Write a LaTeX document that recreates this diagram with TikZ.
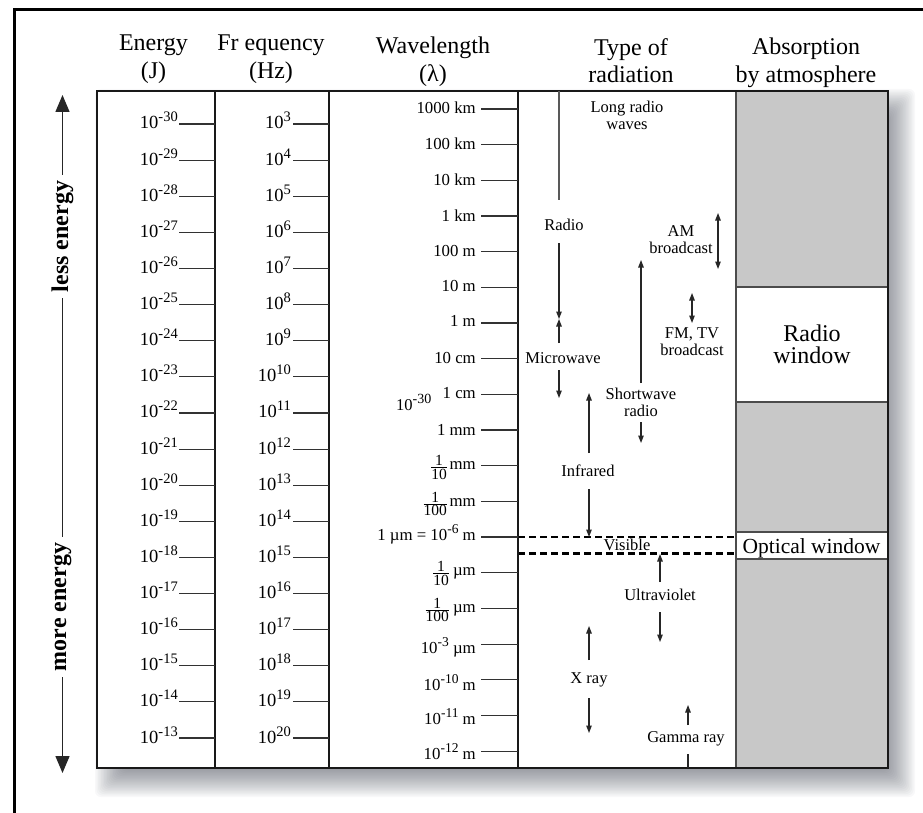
\documentclass[tikz,border=0pt]{standalone}
\usepackage{fontspec}
\setmainfont{Liberation Serif}
\usetikzlibrary{arrows.meta}
\definecolor{absg}{RGB}{200,200,200}
\definecolor{shc}{RGB}{55,60,75}
\definecolor{tkc}{RGB}{50,50,50}
\newcommand\fsz[1]{\fontsize{#1}{#1}\selectfont}
\newcommand\esup[1]{\raisebox{7pt}{\fsz{14.5}#1}}
\newcommand\wsup[1]{\raisebox{7pt}{\fsz{13.5}#1}}
\newcommand\wfrac[2]{\lower 9.5pt\vbox{\fsz{15.5}\halign{\hfil##\hfil\cr #1\cr\noalign{\kern1.2pt\hrule height 0.6pt\kern1.2pt}#2\cr}}}
\begin{document}
\begin{tikzpicture}[x=1pt,y=-1pt,
  tick/.style={draw=tkc, line width=1.1pt},
  elab/.style={anchor=base east, inner sep=0pt, font=\fsz{18.5}},
  wlab/.style={anchor=base east, inner sep=0pt, font=\fsz{16.8}},
  hdr/.style={anchor=north, align=center, inner sep=0pt, font=\fontsize{24}{27.5}\selectfont},
  rlab/.style={align=center, inner sep=0pt, font=\fontsize{16.5}{17}\selectfont},
  sline/.style={draw=black!85, line width=1.1pt},
  sarr/.style={sline, -{Triangle[length=7.5pt,width=5.5pt]}},
  darr/.style={sline, {Triangle[length=7.5pt,width=5.5pt]}-{Triangle[length=7.5pt,width=5.5pt]}},
  bline/.style={draw=black!85, line width=1.5pt},
  barr/.style={bline, -{Triangle[length=17pt,width=14pt]}},
  side/.style={rotate=90, font=\bfseries\fsz{24}, inner xsep=6pt, inner ysep=0pt},
  gline/.style={draw=black!70, line width=1.1pt},
  dashl/.style={draw=black, line width=2.6pt, dash pattern=on 7pt off 4pt}
]
\useasboundingbox (0,0) rectangle (923,813);
\fill[white] (0,0) rectangle (923,813);
\begin{scope}
  \clip (0,0) rectangle (923,813);
  \draw[line width=3pt] (14,830) -- (14,10) -- (940,10);
\end{scope}

% soft shadow
\foreach \i in {0,...,19}{
  \fill[shc, opacity=0.03, rounded corners=6pt] (95+1.5*\i,89+1.5*\i) rectangle (915-1.5*\i,797-1.5*\i);
}

% table body
\fill[white] (97,91) rectangle (888,768);
\fill[absg] (736,91) rectangle (888,287);
\fill[absg] (736,402) rectangle (888,532);
\fill[absg] (736,559) rectangle (888,768);
\draw[gline] (736,287) -- (888,287);
\draw[gline] (736,402) -- (888,402);
\draw[gline] (736,532) -- (888,532);
\draw[gline] (736,559) -- (888,559);
\draw[gline] (736,91) -- (736,768);

\draw[dashl] (518,537) -- (736,537);
\draw[dashl] (518,553.5) -- (736,553.5);

\draw[line width=1.3pt, black!90] (215,91) -- (215,768);
\draw[line width=1.3pt, black!90] (329,91) -- (329,768);
\draw[line width=1.3pt, black!90] (518,91) -- (518,768);
\draw[line width=1.3pt, black!90] (97,91) rectangle (888,768);

% headers
\node[hdr] (hE) at (153.5,35) {Energy\\(J)};
\node[hdr] (hF) at (271,35) {Fr equency\\(Hz)};
\node[hdr] (hW) at (433,37) {Wavelength\\(λ)};
\node[hdr] (hT) at (631,38) {Type of\\radiation};
\node[hdr] (hA) at (806,38) {Absorption\\by atmosphere};

% energy scale
\foreach \e [count=\i from 0] in {30,29,...,13}{
  \pgfmathsetmacro\yy{124+36.12*\i}
  \node[elab] (E\i) at (178,\yy+5) {10\esup{-\e}};
  \draw[tick] (179,\yy) -- (215,\yy);
}
% frequency scale
\foreach \f [count=\i from 0] in {3,...,20}{
  \pgfmathsetmacro\yy{124+36.12*\i}
  \node[elab] (F\i) at (291,\yy+5) {10\esup{\f}};
  \draw[tick] (293,\yy) -- (329,\yy);
}
% wavelength scale
\foreach \wl/\wo [count=\i from 0] in {{1000 km}/5,{100 km}/5,{10 km}/5,{1 km}/5,{100 m}/5,{10 m}/4,{1 m}/3,{10 cm}/5,{1 cm}/4,{1 mm}/5,{\wfrac{1}{10}\,mm}/4,{\wfrac{1}{100}\,mm}/5,{1 µm = 10\wsup{-6} m}/3,{\wfrac{1}{10}\ µm}/3,{\wfrac{1}{100}\ µm}/4,{10\wsup{-3} µm}/9,{10\wsup{-10} m}/11,{10\wsup{-11} m}/9,{10\wsup{-12} m}/8}{
  \pgfmathsetmacro\yy{109+35.67*\i}
  \node[wlab] (W\i) at (476,\yy+\wo) {\wl};
  \draw[tick] (481,\yy) -- (518,\yy);
}
\node[anchor=base west, inner sep=0pt] (stray) at (396,410) {\fsz{16.5}10\raisebox{7pt}{\fsz{14}-30}};

% absorption labels
\node[align=center, inner sep=0pt, font=\fontsize{24}{22.5}\selectfont] (rw) at (812,344.5) {Radio\\window};
\node[anchor=base, inner sep=0pt, font=\fsz{21.5}] (ow) at (811.5,553) {Optical window};

% type of radiation labels
\node[rlab, anchor=north] (long) at (627,101) {Long radio\\waves};
\node[rlab] (radio) at (564,225) {Radio};
\node[rlab] (micro) at (563,358.5) {Microwave};
\node[rlab, anchor=north] (am) at (681,225) {AM\\broadcast};
\node[rlab, anchor=north] (fm) at (692,327) {FM, TV\\broadcast};
\node[rlab, anchor=north] (sw) at (641,388) {Shortwave\\radio};
\node[rlab] (ir) at (588,471) {Infrared};
\node[rlab] (vis) at (627,545) {Visible};
\node[rlab] (uv) at (660,595) {Ultraviolet};
\node[rlab] (xr) at (589,679.5) {X ray};
\node[rlab] (gr) at (686,739) {Gamma ray};

% arrow end points
\coordinate (ra0) at (559,91);   \coordinate (ra1) at (559,200);
\coordinate (ra2) at (559,243);  \coordinate (ra3) at (559,319);
\coordinate (mw0) at (559,343);  \coordinate (mw1) at (559,370);
\coordinate (mw2) at (559,398);
\coordinate (sw0) at (641,383);  \coordinate (sw1) at (641,260);
\coordinate (sw2) at (641,422);  \coordinate (sw3) at (641,443);
\coordinate (am0) at (718,213);  \coordinate (am1) at (718,269);
\coordinate (fm0) at (692,293);  \coordinate (fm1) at (692,323);
\coordinate (ir0) at (589,453);  \coordinate (ir1) at (589,393);
\coordinate (ir2) at (589,489);  \coordinate (ir3) at (589,537);
\coordinate (uv0) at (660,582);  \coordinate (uv1) at (660,554);
\coordinate (uv2) at (660,612);  \coordinate (uv3) at (660,642);
\coordinate (xr0) at (589,660);  \coordinate (xr1) at (589,626);
\coordinate (xr2) at (589,698);  \coordinate (xr3) at (589,733);
\coordinate (gr0) at (688,725);  \coordinate (gr1) at (688,705);
\coordinate (gr2) at (688,754);  \coordinate (gr3) at (688,768);

\draw[sline, draw=black!65] (ra0) -- (ra1);
\draw[sarr] (ra2) -- (ra3);
\draw[sarr] (mw0) -- (ra3);
\draw[sarr] (mw1) -- (mw2);
\draw[sarr] (sw0) -- (sw1);
\draw[sarr] (sw2) -- (sw3);
\draw[darr] (am0) -- (am1);
\draw[darr] (fm0) -- (fm1);
\draw[sarr] (ir0) -- (ir1);
\draw[sarr] (ir2) -- (ir3);
\draw[sarr] (uv0) -- (uv1);
\draw[sarr] (uv2) -- (uv3);
\draw[sarr] (xr0) -- (xr1);
\draw[sarr] (xr2) -- (xr3);
\draw[sarr] (gr0) -- (gr1);
\draw[sline] (gr2) -- (gr3);

% energy direction arrow
\node[side] (less) at (62.5,236.5) {less energy};
\node[side] (more) at (62.5,607) {more energy};
\coordinate (toptip) at (62.5,95);
\coordinate (bottip) at (62.5,773);
\draw[barr] (less) -- (toptip);
\draw[bline] (less) -- (more);
\draw[barr] (more) -- (bottip);
\end{tikzpicture}
\end{document}
